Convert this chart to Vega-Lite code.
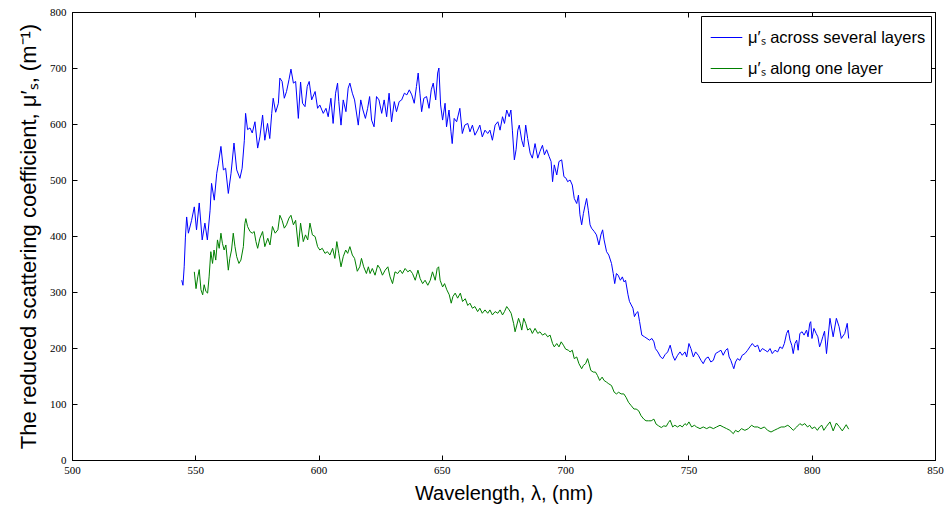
{
  "$schema": "https://vega.github.io/schema/vega-lite/v6.json",
  "width": 863,
  "height": 448,
  "autosize": "none",
  "padding": {"left": 72, "top": 12, "right": 10, "bottom": 50},
  "background": "white",
  "datasets": {
    "blue": [
      {"w":544.5,"v":321},{"w":545,"v":312},{"w":545.5,"v":345},{"w":546,"v":398},{"w":546.5,"v":434},{"w":547.2,"v":405},{"w":548.5,"v":428},{"w":549.6,"v":452},{"w":550.5,"v":411},{"w":551.6,"v":459},{"w":552.8,"v":393},{"w":553.9,"v":423},{"w":554.9,"v":393},{"w":556,"v":446},{"w":556.6,"v":494},{"w":557.7,"v":464},{"w":558.7,"v":512},{"w":559.4,"v":530},{"w":560.4,"v":560},{"w":561.4,"v":518},{"w":562.3,"v":521},{"w":563.4,"v":476},{"w":564.5,"v":512},{"w":565.7,"v":566},{"w":566.8,"v":518},{"w":568.1,"v":503},{"w":569,"v":521},{"w":569.9,"v":571},{"w":570.4,"v":619},{"w":571.2,"v":590},{"w":572.2,"v":593},{"w":573.1,"v":584},{"w":574.2,"v":604},{"w":575.3,"v":557},{"w":576.2,"v":577},{"w":577.3,"v":616},{"w":578.2,"v":571},{"w":579.3,"v":601},{"w":580.2,"v":574},{"w":581,"v":619},{"w":581.6,"v":646},{"w":582.6,"v":621},{"w":583.7,"v":637},{"w":584.3,"v":682},{"w":585.2,"v":676},{"w":586.1,"v":646},{"w":587,"v":658},{"w":588,"v":679},{"w":588.8,"v":698},{"w":589.8,"v":673},{"w":590.7,"v":676},{"w":591.8,"v":610},{"w":592.7,"v":675},{"w":593.5,"v":637},{"w":594.5,"v":631},{"w":595.4,"v":667},{"w":596.2,"v":676},{"w":597.2,"v":643},{"w":598.6,"v":658},{"w":599.6,"v":628},{"w":600.5,"v":634},{"w":601.9,"v":619},{"w":603,"v":628},{"w":603.9,"v":613},{"w":605,"v":646},{"w":605.9,"v":601},{"w":606.9,"v":655},{"w":607.7,"v":673},{"w":608.2,"v":640},{"w":609.1,"v":598},{"w":610,"v":643},{"w":611.1,"v":622},{"w":612,"v":664},{"w":612.7,"v":673},{"w":613.7,"v":655},{"w":614.6,"v":643},{"w":616.1,"v":598},{"w":617.1,"v":643},{"w":618,"v":625},{"w":619,"v":610},{"w":619.9,"v":628},{"w":620.7,"v":649},{"w":621.5,"v":607},{"w":622.5,"v":595},{"w":623.5,"v":649},{"w":624.5,"v":643},{"w":625.6,"v":619},{"w":626.6,"v":643},{"w":627.6,"v":613},{"w":628.6,"v":655},{"w":629.6,"v":604},{"w":630.7,"v":640},{"w":631.6,"v":622},{"w":632.7,"v":640},{"w":633.7,"v":643},{"w":634.8,"v":655},{"w":635.8,"v":652},{"w":636.8,"v":661},{"w":637.8,"v":652},{"w":638.8,"v":637},{"w":639.7,"v":667},{"w":640.4,"v":691},{"w":641.1,"v":655},{"w":641.8,"v":622},{"w":642.7,"v":646},{"w":643.8,"v":649},{"w":644.8,"v":628},{"w":645.7,"v":661},{"w":646.5,"v":673},{"w":647.5,"v":643},{"w":648.3,"v":691},{"w":648.8,"v":700},{"w":649.5,"v":634},{"w":650.3,"v":607},{"w":651.3,"v":637},{"w":651.9,"v":595},{"w":652.9,"v":625},{"w":653.7,"v":586},{"w":654.2,"v":565},{"w":655,"v":610},{"w":656,"v":604},{"w":657.3,"v":628},{"w":658.3,"v":583},{"w":659.3,"v":598},{"w":660.5,"v":601},{"w":661.4,"v":586},{"w":662.4,"v":598},{"w":663.4,"v":580},{"w":664.5,"v":589},{"w":665.4,"v":598},{"w":666.4,"v":577},{"w":667.5,"v":589},{"w":668.6,"v":583},{"w":669.5,"v":589},{"w":670.5,"v":571},{"w":671.6,"v":598},{"w":672.7,"v":604},{"w":673.6,"v":589},{"w":674.6,"v":613},{"w":675.4,"v":601},{"w":676.3,"v":625},{"w":677.3,"v":613},{"w":678,"v":625},{"w":678.6,"v":589},{"w":679.4,"v":536},{"w":680.1,"v":554},{"w":680.8,"v":589},{"w":681.4,"v":598},{"w":682.4,"v":571},{"w":683.2,"v":559},{"w":684,"v":598},{"w":684.8,"v":574},{"w":685.8,"v":548},{"w":686.7,"v":539},{"w":687.8,"v":565},{"w":688.9,"v":539},{"w":689.8,"v":551},{"w":690.8,"v":562},{"w":691.6,"v":545},{"w":692.5,"v":554},{"w":693.5,"v":542},{"w":694.3,"v":533},{"w":694.9,"v":497},{"w":695.6,"v":527},{"w":696.6,"v":509},{"w":697.5,"v":533},{"w":698.6,"v":536},{"w":699.5,"v":506},{"w":700.4,"v":503},{"w":701,"v":497},{"w":702,"v":500},{"w":702.9,"v":491},{"w":703.7,"v":467},{"w":704.7,"v":458},{"w":705.4,"v":473},{"w":706,"v":438},{"w":706.7,"v":420},{"w":707.4,"v":440},{"w":708.1,"v":455},{"w":708.7,"v":467},{"w":709.4,"v":446},{"w":710.1,"v":420},{"w":710.7,"v":414},{"w":711.8,"v":408},{"w":712.7,"v":402},{"w":713.7,"v":384},{"w":714.5,"v":402},{"w":715.2,"v":411},{"w":715.8,"v":393},{"w":716.8,"v":372},{"w":717.7,"v":366},{"w":718.8,"v":351},{"w":719.5,"v":333},{"w":720.1,"v":315},{"w":720.8,"v":333},{"w":721.5,"v":330},{"w":722.4,"v":321},{"w":723.2,"v":327},{"w":723.9,"v":318},{"w":724.5,"v":321},{"w":725.5,"v":295},{"w":726.1,"v":283},{"w":726.8,"v":277},{"w":727.5,"v":271},{"w":728.1,"v":256},{"w":728.8,"v":262},{"w":729.5,"v":265},{"w":730.2,"v":247},{"w":731.1,"v":223},{"w":732.2,"v":220},{"w":733.2,"v":217},{"w":734.2,"v":214},{"w":735.2,"v":217},{"w":736,"v":211},{"w":736.6,"v":199},{"w":737.6,"v":193},{"w":738.7,"v":184},{"w":739.6,"v":181},{"w":740.5,"v":188},{"w":741.6,"v":193},{"w":742.6,"v":205},{"w":743.6,"v":187},{"w":744.5,"v":178},{"w":745.6,"v":187},{"w":746.6,"v":193},{"w":747.5,"v":187},{"w":748.6,"v":193},{"w":749.3,"v":184},{"w":750.2,"v":208},{"w":751,"v":199},{"w":752,"v":184},{"w":752.9,"v":193},{"w":754,"v":187},{"w":755.1,"v":178},{"w":756,"v":172},{"w":757,"v":181},{"w":758,"v":184},{"w":759.1,"v":175},{"w":760.1,"v":178},{"w":761,"v":190},{"w":762.1,"v":193},{"w":763.2,"v":196},{"w":764.1,"v":187},{"w":765.1,"v":196},{"w":765.9,"v":199},{"w":766.5,"v":184},{"w":767.2,"v":178},{"w":767.9,"v":169},{"w":768.4,"v":163},{"w":769.1,"v":175},{"w":769.9,"v":181},{"w":770.9,"v":178},{"w":771.8,"v":187},{"w":772.9,"v":190},{"w":774,"v":196},{"w":774.9,"v":202},{"w":775.9,"v":208},{"w":777,"v":202},{"w":778.1,"v":205},{"w":779,"v":193},{"w":780,"v":199},{"w":781.1,"v":196},{"w":782.1,"v":193},{"w":783.1,"v":199},{"w":784,"v":190},{"w":785.1,"v":196},{"w":786.2,"v":193},{"w":787.1,"v":202},{"w":788.1,"v":199},{"w":788.9,"v":208},{"w":789.8,"v":226},{"w":790.5,"v":232},{"w":791.2,"v":214},{"w":791.9,"v":205},{"w":792.5,"v":190},{"w":793.2,"v":208},{"w":793.9,"v":214},{"w":794.5,"v":196},{"w":795.2,"v":226},{"w":796.1,"v":229},{"w":796.9,"v":223},{"w":797.9,"v":232},{"w":798.5,"v":220},{"w":799.2,"v":244},{"w":799.6,"v":247},{"w":800.1,"v":217},{"w":800.9,"v":235},{"w":801.8,"v":226},{"w":802.5,"v":220},{"w":803.2,"v":202},{"w":803.9,"v":211},{"w":804.5,"v":220},{"w":805.2,"v":230},{"w":806,"v":190},{"w":807.4,"v":253},{"w":808.7,"v":220},{"w":810,"v":253},{"w":811.1,"v":238},{"w":812,"v":217},{"w":813.4,"v":226},{"w":814.4,"v":244},{"w":815,"v":217}
    ],
    "green": [
      {"w":549.6,"v":336},{"w":550.3,"v":306},{"w":551,"v":327},{"w":551.6,"v":340},{"w":552.3,"v":304},{"w":553,"v":295},{"w":553.6,"v":313},{"w":554.3,"v":301},{"w":555,"v":298},{"w":555.6,"v":327},{"w":556.3,"v":372},{"w":557,"v":351},{"w":557.6,"v":375},{"w":558.3,"v":357},{"w":559,"v":393},{"w":559.7,"v":378},{"w":560.4,"v":405},{"w":561,"v":387},{"w":561.7,"v":375},{"w":562.4,"v":384},{"w":563.4,"v":339},{"w":564,"v":360},{"w":564.7,"v":375},{"w":565.4,"v":405},{"w":566.1,"v":381},{"w":566.8,"v":363},{"w":567.7,"v":351},{"w":568.5,"v":357},{"w":569.5,"v":381},{"w":570.1,"v":422},{"w":570.5,"v":431},{"w":571.2,"v":417},{"w":572.2,"v":408},{"w":573.1,"v":405},{"w":573.9,"v":408},{"w":574.6,"v":390},{"w":575.3,"v":378},{"w":576.2,"v":396},{"w":577.3,"v":408},{"w":578.2,"v":381},{"w":579.4,"v":396},{"w":580.3,"v":384},{"w":581.3,"v":417},{"w":582.4,"v":405},{"w":583.5,"v":411},{"w":584.3,"v":437},{"w":585.2,"v":428},{"w":586.1,"v":414},{"w":587,"v":420},{"w":588,"v":432},{"w":588.8,"v":437},{"w":589.8,"v":420},{"w":590.7,"v":428},{"w":591.8,"v":381},{"w":592.7,"v":423},{"w":593.8,"v":390},{"w":594.7,"v":402},{"w":595.6,"v":393},{"w":596.5,"v":423},{"w":597.5,"v":402},{"w":598.6,"v":399},{"w":599.6,"v":381},{"w":600.5,"v":375},{"w":601.5,"v":378},{"w":602.6,"v":369},{"w":603.6,"v":372},{"w":604.6,"v":366},{"w":605.7,"v":378},{"w":606.6,"v":360},{"w":607.4,"v":390},{"w":608.2,"v":369},{"w":609.1,"v":345},{"w":610,"v":363},{"w":611,"v":375},{"w":611.8,"v":369},{"w":612.7,"v":381},{"w":613.7,"v":366},{"w":614.6,"v":360},{"w":615.7,"v":337},{"w":616.7,"v":345},{"w":617.4,"v":360},{"w":618.3,"v":345},{"w":619.4,"v":333},{"w":620.2,"v":345},{"w":620.9,"v":333},{"w":621.8,"v":342},{"w":622.9,"v":330},{"w":624,"v":348},{"w":624.9,"v":342},{"w":625.9,"v":330},{"w":627,"v":339},{"w":628.1,"v":345},{"w":629,"v":327},{"w":630,"v":315},{"w":631,"v":336},{"w":632.1,"v":333},{"w":633.1,"v":339},{"w":634,"v":333},{"w":635.1,"v":342},{"w":636.2,"v":336},{"w":637.1,"v":339},{"w":638.1,"v":333},{"w":639.2,"v":321},{"w":640.3,"v":339},{"w":641.2,"v":324},{"w":642.2,"v":315},{"w":643.2,"v":321},{"w":644.3,"v":312},{"w":645.3,"v":321},{"w":646.2,"v":336},{"w":647.3,"v":321},{"w":648.1,"v":342},{"w":648.7,"v":345},{"w":649.3,"v":321},{"w":650.3,"v":309},{"w":651.1,"v":315},{"w":652,"v":304},{"w":653,"v":295},{"w":653.8,"v":280},{"w":654.5,"v":292},{"w":655.4,"v":298},{"w":656.4,"v":289},{"w":657.5,"v":298},{"w":658.4,"v":283},{"w":659.5,"v":288},{"w":660.5,"v":276},{"w":661.4,"v":280},{"w":662.4,"v":271},{"w":663.4,"v":274},{"w":664.5,"v":265},{"w":665.4,"v":271},{"w":666.4,"v":262},{"w":667.5,"v":268},{"w":668.6,"v":262},{"w":669.5,"v":268},{"w":670.5,"v":259},{"w":671.6,"v":265},{"w":672.7,"v":262},{"w":673.6,"v":268},{"w":674.6,"v":259},{"w":675.4,"v":265},{"w":676.3,"v":274},{"w":677.3,"v":268},{"w":678.1,"v":262},{"w":679.1,"v":244},{"w":679.7,"v":229},{"w":680.4,"v":241},{"w":681.1,"v":253},{"w":681.8,"v":244},{"w":682.4,"v":232},{"w":683.2,"v":253},{"w":684,"v":244},{"w":684.8,"v":232},{"w":685.8,"v":235},{"w":686.7,"v":226},{"w":687.8,"v":235},{"w":688.9,"v":226},{"w":689.8,"v":229},{"w":690.8,"v":223},{"w":691.9,"v":226},{"w":692.9,"v":220},{"w":693.9,"v":223},{"w":694.9,"v":208},{"w":695.6,"v":202},{"w":696.6,"v":208},{"w":697.5,"v":202},{"w":698.4,"v":211},{"w":699.3,"v":205},{"w":700.2,"v":198},{"w":701.3,"v":196},{"w":702,"v":193},{"w":702.9,"v":196},{"w":703.7,"v":181},{"w":704.7,"v":184},{"w":705.6,"v":172},{"w":706.7,"v":163},{"w":707.4,"v":169},{"w":708.3,"v":172},{"w":709.1,"v":181},{"w":709.7,"v":172},{"w":710.4,"v":160},{"w":711.4,"v":157},{"w":712.3,"v":157},{"w":713.1,"v":151},{"w":714,"v":142},{"w":715,"v":148},{"w":715.8,"v":142},{"w":716.8,"v":139},{"w":717.7,"v":136},{"w":718.8,"v":133},{"w":719.9,"v":121},{"w":720.8,"v":118},{"w":721.7,"v":121},{"w":722.7,"v":118},{"w":723.8,"v":118},{"w":724.7,"v":112},{"w":725.7,"v":103},{"w":726.8,"v":97},{"w":727.9,"v":91},{"w":728.8,"v":91},{"w":729.8,"v":88},{"w":730.8,"v":79},{"w":731.9,"v":73},{"w":732.8,"v":70},{"w":733.8,"v":70},{"w":734.9,"v":70},{"w":736,"v":73},{"w":736.9,"v":64},{"w":737.9,"v":61},{"w":739,"v":58},{"w":740,"v":61},{"w":741,"v":60},{"w":741.9,"v":67},{"w":742.6,"v":71},{"w":743.6,"v":59},{"w":744.5,"v":62},{"w":745.6,"v":59},{"w":746.6,"v":62},{"w":747.5,"v":59},{"w":748.6,"v":65},{"w":749.3,"v":62},{"w":750.2,"v":68},{"w":751.3,"v":59},{"w":752.4,"v":62},{"w":753.3,"v":59},{"w":754.7,"v":56},{"w":756,"v":59},{"w":757.4,"v":56},{"w":758.7,"v":59},{"w":760.1,"v":56},{"w":761.4,"v":59},{"w":762.8,"v":62},{"w":764.1,"v":59},{"w":765.5,"v":56},{"w":766.8,"v":53},{"w":768.2,"v":47},{"w":769.1,"v":53},{"w":770.2,"v":50},{"w":771.5,"v":56},{"w":772.9,"v":53},{"w":774.3,"v":56},{"w":775.6,"v":62},{"w":776.7,"v":59},{"w":778.1,"v":59},{"w":779.4,"v":56},{"w":780.8,"v":59},{"w":782.1,"v":53},{"w":783.5,"v":50},{"w":784.8,"v":53},{"w":786.2,"v":56},{"w":787.6,"v":59},{"w":788.9,"v":59},{"w":790.3,"v":62},{"w":791.2,"v":59},{"w":792.5,"v":53},{"w":793.9,"v":59},{"w":795.2,"v":65},{"w":796.1,"v":62},{"w":797.2,"v":65},{"w":798.3,"v":59},{"w":799.2,"v":62},{"w":800.1,"v":56},{"w":801.2,"v":59},{"w":802.3,"v":53},{"w":803.2,"v":59},{"w":804.1,"v":62},{"w":804.9,"v":53},{"w":806,"v":60},{"w":807.4,"v":68},{"w":808.7,"v":52},{"w":810,"v":66},{"w":811.1,"v":60},{"w":812.4,"v":52},{"w":814,"v":63},{"w":815,"v":55}
    ]
  },
  "layer": [
    {
      "data": {"name": "blue"},
      "mark": {"type": "line", "strokeWidth": 1, "interpolate": "linear"},
      "encoding": {
        "x": {"field": "w", "type": "quantitative", "scale": {"domain": [500, 850], "nice": false, "zero": false},
          "axis": {"orient": "bottom", "values": [500,550,600,650,700,750,800,850], "format": "d", "title": "Wavelength, λ, (nm)", "tickSize": -5, "labelPadding": 9, "titlePadding": 8}},
        "y": {"field": "v", "type": "quantitative", "scale": {"domain": [0, 800], "nice": false},
          "axis": {"orient": "left", "values": [0,100,200,300,400,500,600,700,800], "format": "d", "title": "The reduced scattering coefficient, μ′ₛ, (m⁻¹)", "tickSize": -5, "labelPadding": 11, "titlePadding": 9, "titleFontSize": 22}},
        "color": {"datum": "μ′ₛ across several layers", "type": "nominal",
          "scale": {"domain": ["μ′ₛ across several layers", "μ′ₛ along one layer"], "range": ["#0000ff", "#008000"]}}
      }
    },
    {
      "data": {"name": "green"},
      "mark": {"type": "line", "strokeWidth": 1, "interpolate": "linear"},
      "encoding": {
        "x": {"field": "w", "type": "quantitative", "scale": {"domain": [500, 850], "nice": false, "zero": false},
          "axis": {"orient": "top", "values": [500,550,600,650,700,750,800,850], "labels": false, "title": null, "tickSize": -5, "domain": false}},
        "y": {"field": "v", "type": "quantitative", "scale": {"domain": [0, 800], "nice": false},
          "axis": {"orient": "right", "values": [0,100,200,300,400,500,600,700,800], "labels": false, "title": null, "tickSize": -5, "domain": false}},
        "color": {"datum": "μ′ₛ along one layer", "type": "nominal"}
      }
    }
  ],
  "resolve": {"axis": {"x": "independent", "y": "independent"}},
  "config": {
    "view": {"stroke": "#000000", "strokeWidth": 1},
    "axis": {
      "grid": false,
      "domainColor": "#000000",
      "tickColor": "#000000",
      "labelColor": "#000000",
      "labelFont": "Liberation Sans Narrow",
      "labelFontSize": 11,
      "labelFlush": false,
      "titleFont": "Liberation Sans",
      "titleFontSize": 20,
      "titleFontWeight": "normal",
      "titleColor": "#000000"
    },
    "legend": {
      "orient": "top-right",
      "offset": 4,
      "title": null,
      "symbolType": "stroke",
      "symbolSize": 1000,
      "symbolStrokeWidth": 1,
      "symbolOffset": 4,
      "labelFont": "Liberation Sans",
      "labelFontSize": 16.5,
      "labelLimit": 400,
      "labelColor": "#000000",
      "labelOffset": 5,
      "strokeColor": "#000000",
      "fillColor": "#ffffff",
      "padding": 5,
      "rowPadding": 6
    }
  }
}
